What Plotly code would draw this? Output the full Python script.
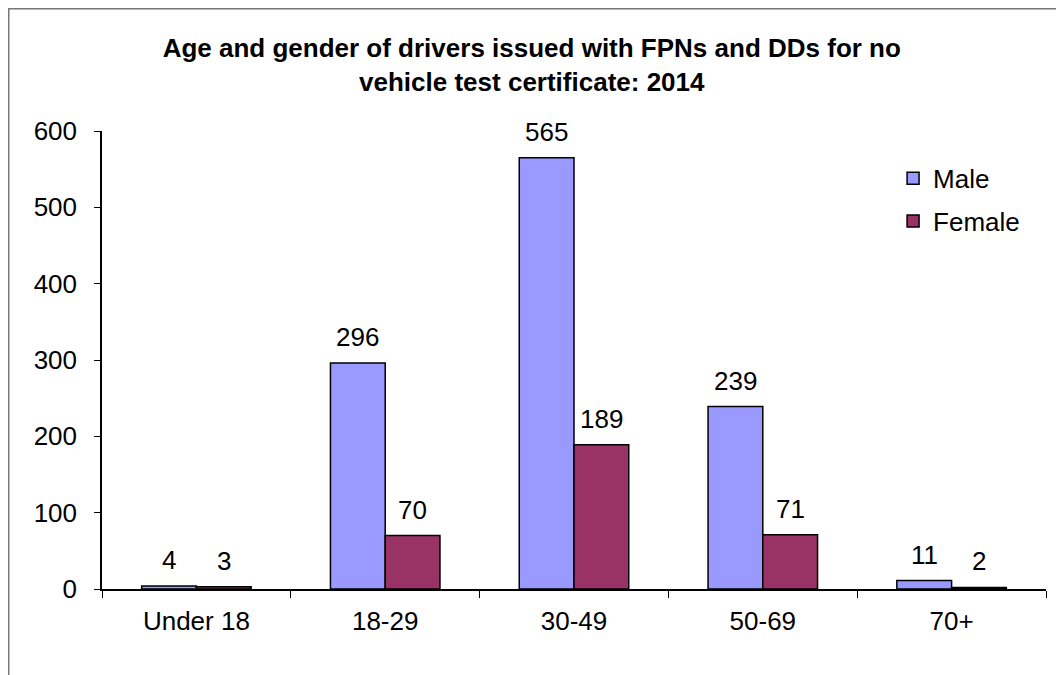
import plotly.graph_objects as go

age_groups = ["Under 18", "18-29", "30-49", "50-69", "70+"]
male = [4, 296, 565, 239, 11]
female = [3, 70, 189, 71, 2]

font_family = "Liberation Sans, Arial, sans-serif"

fig = go.Figure()
fig.add_trace(go.Bar(x=age_groups, y=male, name="Male",
                     marker=dict(color="#9999FF", line=dict(color="black", width=1.5)),
                     legendgroup="m"))
fig.add_trace(go.Bar(x=age_groups, y=female, name="Female",
                     marker=dict(color="#993366", line=dict(color="black", width=1.5)),
                     legendgroup="f"))

# value labels above each bar
for i, cat in enumerate(age_groups):
    for vals, shift in ((male, -27.4), (female, 27.4)):
        fig.add_annotation(x=cat, y=vals[i], text=str(vals[i]), showarrow=False,
                           xshift=shift, yshift=9, yanchor="bottom",
                           font=dict(size=26, color="black", family=font_family))

# outer chart frame (right and bottom edges fall outside the page)
fig.add_shape(type="rect", xref="paper", yref="paper",
              x0=-0.0988, x1=1.3, y0=-0.5, y1=1.2669,
              line=dict(color="#777777", width=1.5), layer="below")

fig.update_layout(
    title=dict(text="<b>Age and gender of drivers issued with FPNs and DDs for no<br>vehicle test certificate: 2014</b>",
               x=0.496, xanchor="center", y=0.9265, yanchor="middle",
               font=dict(size=26, color="black", family=font_family)),
    width=1056, height=667,
    margin=dict(l=94, r=18, t=123, b=86),
    paper_bgcolor="white", plot_bgcolor="white",
    barmode="group", bargap=0.42, bargroupgap=0,
    font=dict(family=font_family, size=26, color="black"),
    legend=dict(x=0.838, y=0.948, xanchor="left", yanchor="top",
                font=dict(size=26), traceorder="grouped", tracegroupgap=6,
                itemwidth=30, bgcolor="rgba(0,0,0,0)"),
    showlegend=True,
)
fig.update_xaxes(showline=True, linecolor="black", linewidth=1.5,
                 ticks="outside", tickson="boundaries", ticklen=7, tickcolor="black",
                 ticklabelstandoff=8, showgrid=False)
fig.update_yaxes(range=[0, 600], dtick=100, showline=True, linecolor="black", linewidth=1.5,
                 ticks="outside", ticklen=6, tickcolor="black", showgrid=False,
                 zeroline=False, ticklabelstandoff=12)

fig.write_html("out.html")
